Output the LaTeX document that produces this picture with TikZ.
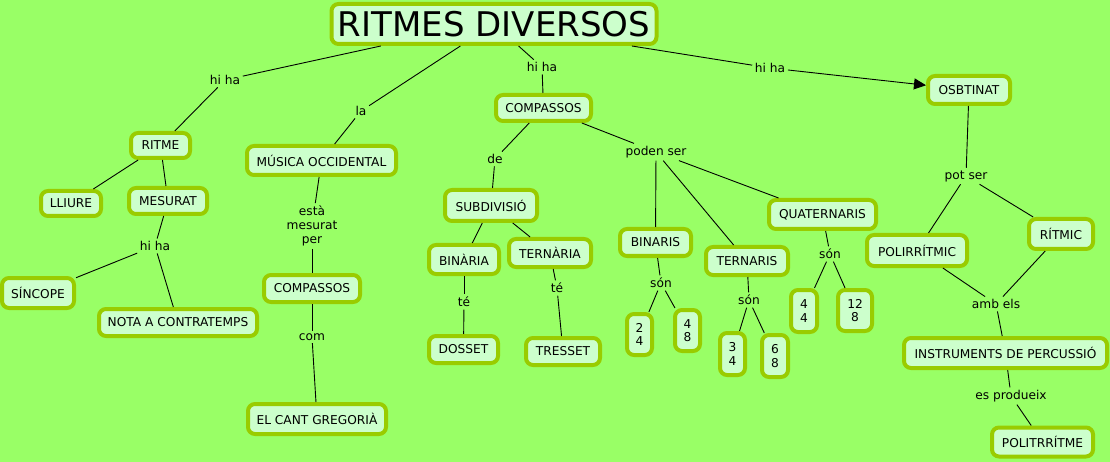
\documentclass[tikz,border=0pt]{standalone}
\usepackage{fontspec}
\setmainfont{DejaVu Sans}
\usetikzlibrary{arrows.meta}
\definecolor{bg}{HTML}{99FF66}
\definecolor{cfill}{HTML}{CCFFCC}
\definecolor{cborder}{HTML}{99CC00}
\tikzset{
  concept/.style={draw=cborder, line width=4pt, fill=cfill, rounded corners=7pt,
    inner sep=0pt, align=center, text=black, font=\fontsize{12.2}{13.5}\selectfont},
  phrase/.style={inner sep=2.5pt, align=center, text=black, font=\fontsize{12.2}{14}\selectfont},
  link/.style={line width=0.9pt, black},
  arrowlink/.style={link, -{Triangle[length=12pt,width=11pt]}},
  sz/.style n args={2}{minimum width=#1pt, minimum height=#2pt}
}
\begin{document}
\begin{tikzpicture}[x=1pt,y=-1pt]
\fill[bg] (0,0) rectangle (1110,462);
\useasboundingbox (0,0) rectangle (1110,462);

% concepts
\node[concept, sz={325}{40}, font=\fontsize{34}{36}\selectfont] (root) at (494,24) {RITMES DIVERSOS};
\node[concept, sz={59}{25}] (ritme) at (160.5,145.5) {RITME};
\node[concept, sz={60}{25}] (lliure) at (71,203.5) {LLIURE};
\node[concept, sz={78}{26}] (mesurat) at (168,201) {MESURAT};
\node[concept, sz={72}{30}] (sincope) at (38,293) {SÍNCOPE};
\node[concept, sz={158}{27}] (nota) at (178,322.5) {NOTA A CONTRATEMPS};
\node[concept, sz={149}{29}] (musica) at (321.5,160.5) {MÚSICA OCCIDENTAL};
\node[concept, sz={96}{27}] (compL) at (312,288.5) {COMPASSOS};
\node[concept, sz={138}{30}] (cant) at (317,419) {EL CANT GREGORIÀ};
\node[concept, sz={95}{26}] (compT) at (543.5,108) {COMPASSOS};
\node[concept, sz={92}{31}] (subdiv) at (491,205.5) {SUBDIVISIÓ};
\node[concept, sz={70}{29}] (binaria) at (464,259.5) {BINÀRIA};
\node[concept, sz={82}{28}] (ternaria) at (550,253) {TERNÀRIA};
\node[concept, sz={69}{27}] (dosset) at (463.5,349.5) {DOSSET};
\node[concept, sz={74}{27}] (tresset) at (563,351.5) {TRESSET};
\node[concept, sz={71}{27}] (binaris) at (655.5,242.5) {BINARIS};
\node[concept, sz={82}{28}] (ternaris) at (747,261) {TERNARIS};
\node[concept, sz={107}{29}] (quat) at (822.5,214.5) {QUATERNARIS};
\node[concept, sz={25}{41}] (dq) at (639.5,334.5) {2\\4};
\node[concept, sz={25}{41}] (qv) at (687.5,330.5) {4\\8};
\node[concept, sz={25}{42}] (tq) at (732.5,354) {3\\4};
\node[concept, sz={26}{42}] (sv) at (775,356) {6\\8};
\node[concept, sz={26}{42}] (qq) at (804,311) {4\\4};
\node[concept, sz={34}{41}] (dv) at (855,310.5) {12\\8};
\node[concept, sz={82}{28}] (osb) at (969,90) {OSBTINAT};
\node[concept, sz={100}{31}] (poli) at (917,250.5) {POLIRRÍTMIC};
\node[concept, sz={64}{30}] (ritmic) at (1061,234) {RÍTMIC};
\node[concept, sz={203}{30}] (instr) at (1005.5,353) {INSTRUMENTS DE PERCUSSIÓ};
\node[concept, sz={101}{29}] (politr) at (1042.5,442) {POLITRRÍTME};

% linking phrases
\node[phrase] (p1) at (225,80) {hi ha};
\node[phrase] (p2) at (361,111) {la};
\node[phrase] (p3) at (542,67) {hi ha};
\node[phrase] (p4) at (770,68) {hi ha};
\node[phrase] (p5) at (155,246) {hi ha};
\node[phrase] (p6) at (312,226) {està\\mesurat\\per};
\node[phrase] (p7) at (312,337) {com};
\node[phrase] (p8) at (495,159) {de};
\node[phrase] (p9) at (656,152) {poden ser};
\node[phrase] (p10) at (464,302) {té};
\node[phrase] (p11) at (557,288) {té};
\node[phrase] (p12) at (661,283) {són};
\node[phrase] (p13) at (749,300) {són};
\node[phrase] (p14) at (830,254) {són};
\node[phrase] (p15) at (966,176) {pot ser};
\node[phrase] (p16) at (996,304) {amb els};
\node[phrase] (p17) at (1011,396) {es produeix};

% connectors
\draw[link] (root.191) -- (p1);
\draw[link] (p1) -- (ritme);
\draw[link] (root) -- (p2);
\draw[link] (p2) -- (musica);
\draw[link] (root) -- (p3);
\draw[link] (p3) -- (compT);
\draw[link] (root) -- (p4);
\draw[arrowlink] (p4) -- (osb);
\draw[link] (ritme) -- (lliure);
\draw[link] (ritme) -- (mesurat);
\draw[link] (mesurat) -- (p5);
\draw[link] (p5) -- (sincope);
\draw[link] (p5) -- (nota);
\draw[link] (musica) -- (p6);
\draw[link] (p6) -- (compL);
\draw[link] (compL) -- (p7);
\draw[link] (p7) -- (cant);
\draw[link] (compT) -- (p8);
\draw[link] (p8) -- (subdiv);
\draw[link] (compT) -- (p9);
\draw[link] (subdiv) -- (binaria);
\draw[link] (subdiv) -- (ternaria);
\draw[link] (binaria) -- (p10);
\draw[link] (p10) -- (dosset);
\draw[link] (ternaria) -- (p11);
\draw[link] (p11) -- (tresset);
\draw[link] (p9) -- (binaris);
\draw[link] (p9) -- (ternaris);
\draw[link] (p9) -- (quat);
\draw[link] (binaris) -- (p12);
\draw[link] (p12) -- (dq);
\draw[link] (p12) -- (qv);
\draw[link] (ternaris) -- (p13);
\draw[link] (p13) -- (tq);
\draw[link] (p13) -- (sv);
\draw[link] (quat) -- (p14);
\draw[link] (p14) -- (qq);
\draw[link] (p14) -- (dv);
\draw[link] (osb) -- (p15);
\draw[link] (p15) -- (poli);
\draw[link] (p15) -- (ritmic);
\draw[link] (poli) -- (p16);
\draw[link] (ritmic) -- (p16);
\draw[link] (p16) -- (instr);
\draw[link] (instr) -- (p17);
\draw[link] (p17) -- (politr);
\end{tikzpicture}
\end{document}
